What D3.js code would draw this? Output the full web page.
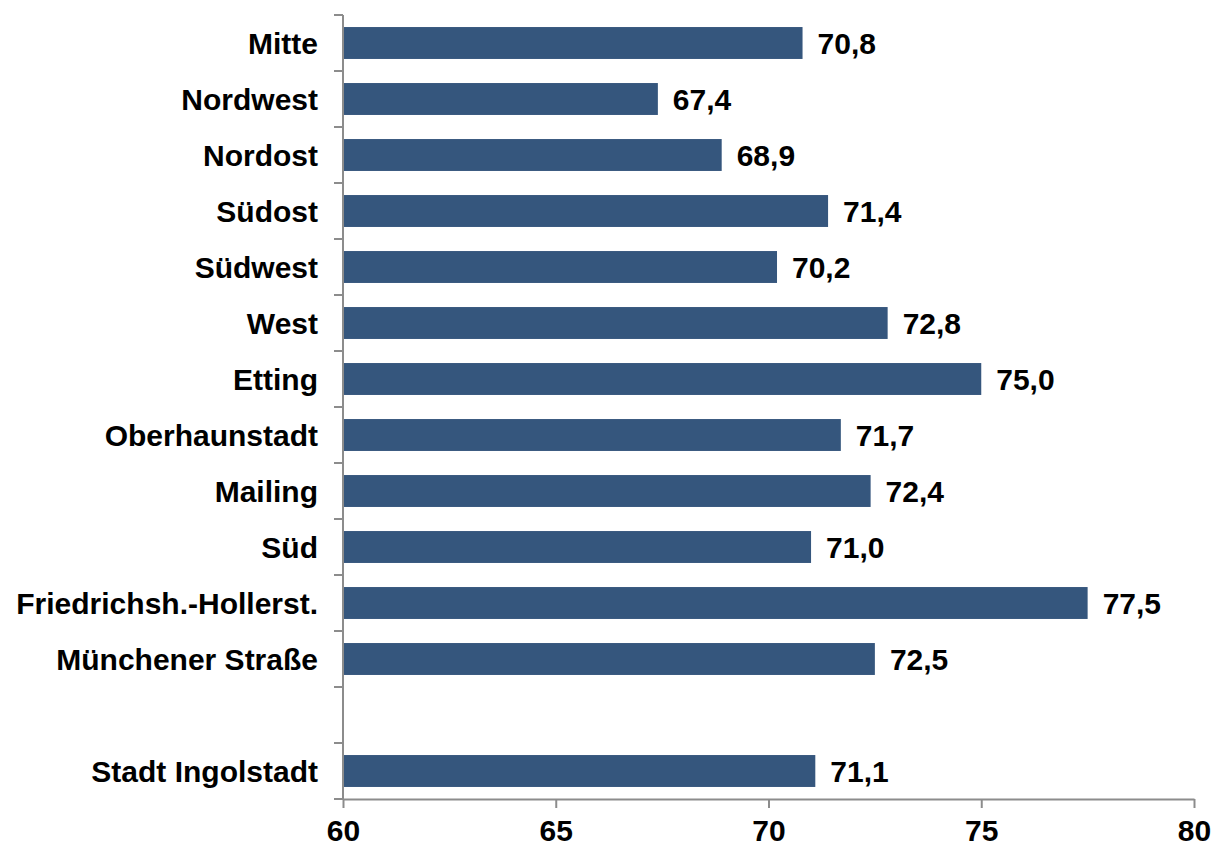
<!DOCTYPE html>
<html>
<head>
<meta charset="utf-8">
<script src="https://cdn.jsdelivr.net/npm/d3@7"></script>
<style>
 body { margin:0; background:#fff; }
 text { font-family: "Liberation Sans", Arial, sans-serif; font-weight:bold; fill:#000; }
</style>
</head>
<body>
<div id="chartDiv"></div>
<script>
// Data
var categories = ["Mitte","Nordwest","Nordost","Südost","Südwest","West","Etting",
  "Oberhaunstadt","Mailing","Süd","Friedrichsh.-Hollerst.","Münchener Straße","","Stadt Ingolstadt"];
var values = [70.8,67.4,68.9,71.4,70.2,72.8,75.0,71.7,72.4,71.0,77.5,72.5,null,71.1];
var xTicks = [60,65,70,75,80];

var margin = {top: 15, right: 20, bottom: 50, left: 343};
var W = 1214, H = 848;
var width = 1194 - margin.left;
var height = 799 - margin.top;
var fontSize = "30px";

var svg = d3.select("#chartDiv").append("svg")
 .attr("width", W).attr("height", H)
 .append("g")
 .attr("transform", "translate(" + margin.left + "," + margin.top + ")");

var xScale = d3.scaleLinear().domain([60,80]).range([0, width]);
var yScale = d3.scaleBand().domain(d3.range(categories.length)).range([0, height]).paddingInner(0.43).paddingOuter(0.215);
var slot = height / categories.length;

var data = categories.map(function(c,i){ return {cat:c, val:values[i], i:i}; });
var barData = data.filter(function(d){ return d.val !== null; });

svg.selectAll(".bar")			//bars
 .data(barData)
 .enter().append("rect")
 .attr("x", 0)
 .attr("y", function(d){ return yScale(d.i); })
 .attr("width", function(d){ return xScale(d.val); })
 .attr("height", yScale.bandwidth())
 .attr("fill", "#35567d");

svg.selectAll(".val")			//value labels
 .data(barData)
 .enter().append("text")
 .attr("x", function(d){ return xScale(d.val) + 15; })
 .attr("y", function(d){ return yScale(d.i) + yScale.bandwidth()/2; })
 .attr("dy", "0.36em")
 .style("font-size", fontSize)
 .text(function(d){ return d.val.toFixed(1).replace(".", ","); });

svg.selectAll(".cat")			//category labels
 .data(data)
 .enter().append("text")
 .attr("x", -25)
 .attr("y", function(d){ return yScale(d.i) + yScale.bandwidth()/2; })
 .attr("dy", "0.36em")
 .attr("text-anchor", "end")
 .style("font-size", fontSize)
 .text(function(d){ return d.cat; });

var axisColor = "#8c8c8c";
// y axis line + ticks at slot boundaries
svg.append("line")
 .attr("x1", 0).attr("x2", 0).attr("y1", 0).attr("y2", height)
 .attr("stroke", axisColor).attr("stroke-width", 2);
svg.selectAll(".ytick")
 .data(d3.range(categories.length + 1))
 .enter().append("line")
 .attr("x1", -9).attr("x2", 0)
 .attr("y1", function(d){ return d * slot; })
 .attr("y2", function(d){ return d * slot; })
 .attr("stroke", axisColor).attr("stroke-width", 2);

// x axis
var xAxis = svg.append("g")
 .attr("transform", "translate(0," + height + ")")
 .call(d3.axisBottom(xScale).tickValues(xTicks).tickSize(9).tickPadding(12).tickSizeOuter(0));
xAxis.select(".domain").attr("stroke", axisColor).attr("stroke-width", 2);
xAxis.selectAll(".tick line").attr("stroke", axisColor).attr("stroke-width", 2);
xAxis.selectAll(".tick text")
 .style("font-size", fontSize)
 .style("font-family", "'Liberation Sans', Arial, sans-serif")
 .style("font-weight", "bold")
 .attr("fill", "#000");
</script>
</body>
</html>
